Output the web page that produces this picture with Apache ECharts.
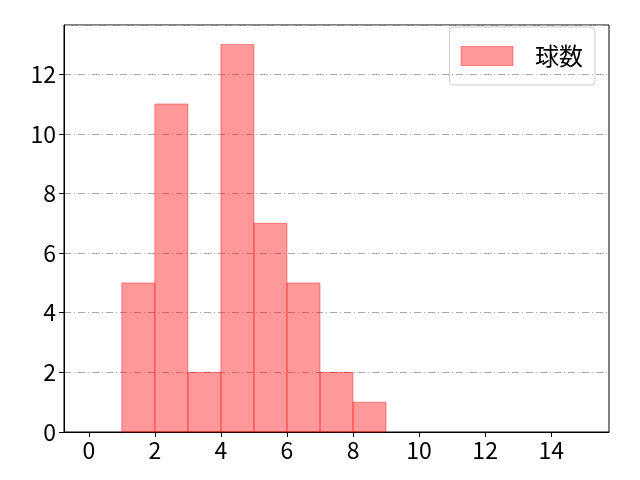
<!DOCTYPE html>
<html>
<head>
<meta charset="utf-8">
<script src="https://cdn.jsdelivr.net/npm/echarts@6/dist/echarts.min.js"></script>
<style>
  html, body { margin: 0; padding: 0; background: #fff; }
  #main { width: 640px; height: 480px; }
</style>
</head>
<body>
<div id="main"></div>
<script>
// 直方图数据
const binStarts = [1, 2, 3, 4, 5, 6, 7, 8];
const binEnds = [2, 3, 4, 5, 6, 7, 8, 9];
const counts = [5, 11, 2, 13, 7, 5, 2, 1];
const xTicks = [0, 2, 4, 6, 8, 10, 12, 14];
const seriesName = '球数';

const FONT = '"Noto Sans CJK JP", "Noto Sans", sans-serif';
const chart = echarts.init(document.getElementById('main'));

const bins = binStarts.map((s, i) => [s, binEnds[i], counts[i]]);

chart.setOption({
  animation: false,
  grid: {
    left: 64, right: 31, top: 25, bottom: 48,
    show: true, borderColor: '#000', borderWidth: 1
  },
  legend: {
    right: 45, top: 27,
    padding: [17, 12, 17, 11],
    borderColor: '#ccc', borderWidth: 1, borderRadius: 4,
    icon: 'rect',
    itemWidth: 52, itemHeight: 19, itemGap: 0,
    textStyle: { fontFamily: FONT, fontSize: 24, color: '#000', padding: [0, 0, 0, 17] },
    data: [{ name: seriesName, itemStyle: { color: 'rgba(255,0,0,0.4)', borderColor: 'rgba(255,0,0,0.4)', borderWidth: 1 } }]
  },
  xAxis: {
    type: 'value', min: -0.75, max: 15.75,
    axisLine: { show: true, onZero: false, lineStyle: { color: '#000' } },
    axisTick: { show: true, customValues: xTicks, length: 5, lineStyle: { color: '#000' } },
    axisLabel: { customValues: xTicks, fontFamily: FONT, fontSize: 23, color: '#000', margin: 7 },
    splitLine: { show: false }
  },
  yAxis: {
    type: 'value', min: 0, max: 13.65, interval: 2,
    axisLine: { show: true, onZero: false, lineStyle: { color: '#000' } },
    axisTick: { show: true, length: 5, lineStyle: { color: '#000' } },
    axisLabel: { showMaxLabel: false, fontFamily: FONT, fontSize: 23, color: '#000', margin: 8 },
    splitLine: { show: true, lineStyle: { color: '#aaa', width: 1, type: [7, 3, 1, 3] } }
  },
  series: [{
    name: seriesName,
    type: 'custom',
    z: 10,
    data: bins,
    encode: { x: [0, 1], y: 2 },
    renderItem: function (params, api) {
      const p0 = api.coord([api.value(0), api.value(2)]);
      const p1 = api.coord([api.value(1), 0]);
      return {
        type: 'rect',
        shape: { x: p0[0], y: p0[1], width: p1[0] - p0[0], height: p1[1] - p0[1] },
        style: { fill: 'rgba(255,0,0,0.4)', stroke: 'rgba(255,0,0,0.4)', lineWidth: 1 }
      };
    }
  }]
});
</script>
</body>
</html>
